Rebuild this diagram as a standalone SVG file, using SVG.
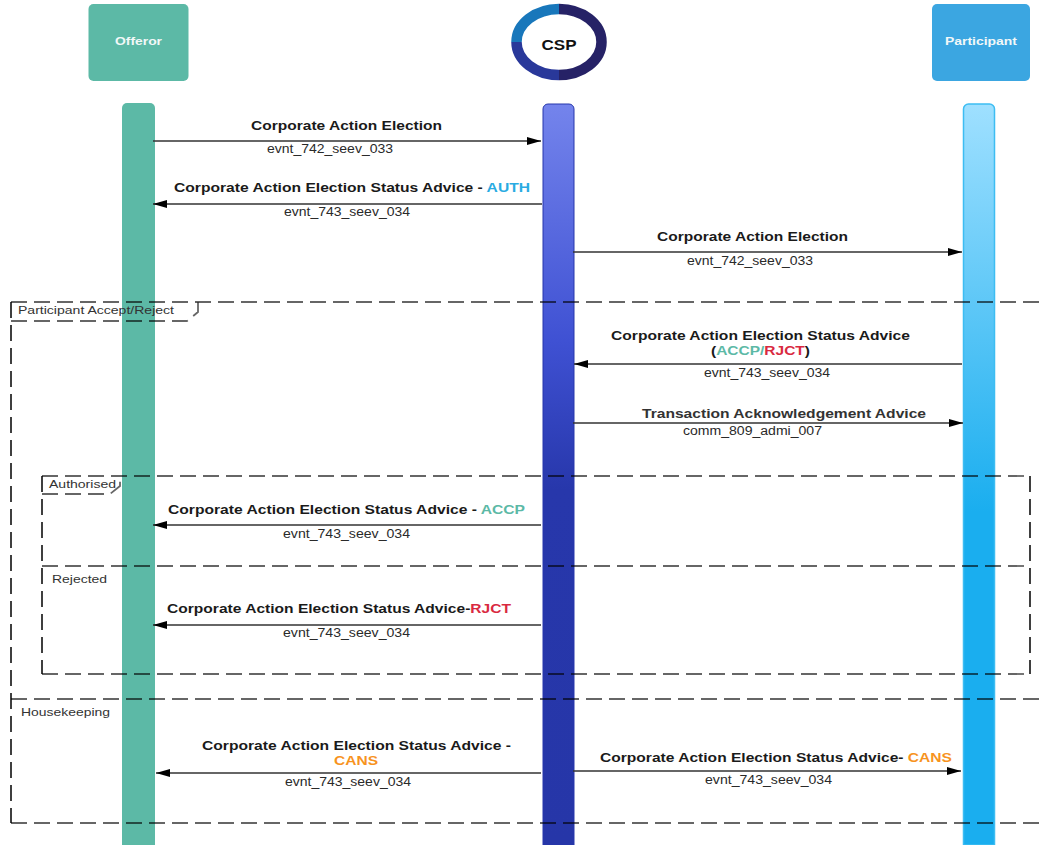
<svg xmlns="http://www.w3.org/2000/svg" width="1044" height="845" viewBox="0 0 1044 845">
<style>
text{font-family:"Liberation Sans",Arial,sans-serif;fill:#1a1a1a}
.b{font-weight:700;font-size:12.5px}
.s{font-size:12px;fill:#2a2a2a}
.f{font-size:11.5px;fill:#333}
.h{font-weight:700;font-size:11px;fill:#f2f8f8;text-anchor:middle}
.m{fill:none;stroke:#333;stroke-width:1.5}
.d{fill:none;stroke:#000;stroke-opacity:.6;stroke-width:1.8;stroke-dasharray:16 7}
.v{fill:none;stroke:#000;stroke-width:1.5;stroke-dasharray:16 7}
.auth{fill:#29abe2}.accp{fill:#5cb9a6}.rjct{fill:#d9293f}.cans{fill:#f7931e}
</style>
<defs>
<marker id="a" markerUnits="userSpaceOnUse" markerWidth="14" markerHeight="8" refX="14" refY="4" orient="auto"><path d="M0 0L14 4L0 8Z" fill="#000"/></marker>
<linearGradient id="gc" x1="0" y1="0" x2="0" y2="1"><stop offset="0" stop-color="#7484ec"/><stop offset=".32" stop-color="#3f51d3"/><stop offset=".52" stop-color="#2737ab"/><stop offset="1" stop-color="#2636a8"/></linearGradient>
<linearGradient id="gp" x1="0" y1="0" x2="0" y2="1"><stop offset="0" stop-color="#9fe0ff"/><stop offset=".55" stop-color="#1aaeef"/><stop offset="1" stop-color="#1aaeef"/></linearGradient>
</defs>
<rect width="1044" height="845" fill="#fff"/>
<g id="offeror"><rect x="88.500" y="4" width="100" height="77" rx="5" fill="#5cb9a6"/><text class="h" x="138.500" y="45" textLength="47" lengthAdjust="spacingAndGlyphs">Offeror</text></g>
<g id="csp">
<path d="M559 9A42.500 33 0 0 0 516.500 42" fill="none" stroke="#1877bb" stroke-width="10.500"/>
<path d="M516.500 42A42.500 33 0 0 0 559 75" fill="none" stroke="#29389a" stroke-width="10.500"/>
<path d="M559 75A42.500 33 0 0 0 559 9" fill="none" stroke="#262266" stroke-width="10.500"/>
<text x="559" y="50" font-size="14" font-weight="700" text-anchor="middle" textLength="35" lengthAdjust="spacingAndGlyphs" style="fill:#111">CSP</text></g>
<g id="participant"><rect x="932" y="4" width="98" height="77" rx="5" fill="#3ba6e1"/><text class="h" x="981" y="45" textLength="72" lengthAdjust="spacingAndGlyphs">Participant</text></g>
<g id="offeror-life"><path d="M122 845V108a5 5 0 0 1 5-5h23a5 5 0 0 1 5 5V845Z" fill="#5cb9a6"/></g>
<g id="csp-life"><path d="M543 845V109a5 5 0 0 1 5-5h21a5 5 0 0 1 5 5V845Z" fill="url(#gc)" stroke="#2737ab" stroke-width="1"/></g>
<g id="participant-life"><path d="M963.500 845V109a5 5 0 0 1 5-5h21a5 5 0 0 1 5 5V845Z" fill="url(#gp)" stroke="#3dbdf2" stroke-width="1.500"/></g>
<g id="frames">
<path class="d" d="M11 302H1044"/>
<path class="v" d="M11 302V823"/>
<path class="d" d="M11 321H187L198 312V302"/>
<path class="d" d="M11 699H1044"/>
<path class="d" d="M11 823H1044"/>
<path class="d" d="M42 476H1030"/>
<path class="v" d="M42 476V674"/>
<path class="v" d="M1030 476V674"/>
<path class="d" d="M42 674H1030"/>
<path class="d" d="M42 494H110L120 486V476"/>
<path class="d" d="M42 566H1030"/>
</g>
<g id="connectors">
<path class="m" d="M153 141H541" marker-end="url(#a)"/>
<path class="m" d="M542 204H153" marker-end="url(#a)"/>
<path class="m" d="M573 252H962" marker-end="url(#a)"/>
<path class="m" d="M962 364H574" marker-end="url(#a)"/>
<path class="m" d="M573 423H963" marker-end="url(#a)"/>
<path class="m" d="M541 525H153" marker-end="url(#a)"/>
<path class="m" d="M541 625H153" marker-end="url(#a)"/>
<path class="m" d="M541 773H156" marker-end="url(#a)"/>
<path class="m" d="M573 771H961" marker-end="url(#a)"/>
</g>
<g id="labels">
<text class="b" x="251" y="130" textLength="191" lengthAdjust="spacingAndGlyphs">Corporate Action Election</text>
<text class="s" x="267" y="153" textLength="126" lengthAdjust="spacingAndGlyphs">evnt_742_seev_033</text>
<text class="b" x="174" y="192" textLength="356" lengthAdjust="spacingAndGlyphs">Corporate Action Election Status Advice - <tspan class="auth">AUTH</tspan></text>
<text class="s" x="284" y="216" textLength="126" lengthAdjust="spacingAndGlyphs">evnt_743_seev_034</text>
<text class="b" x="657" y="241" textLength="191" lengthAdjust="spacingAndGlyphs">Corporate Action Election</text>
<text class="s" x="687" y="265" textLength="126" lengthAdjust="spacingAndGlyphs">evnt_742_seev_033</text>
<text class="f" x="18" y="314" textLength="156" lengthAdjust="spacingAndGlyphs">Participant Accept/Reject</text>
<text class="b" x="611" y="340" textLength="299" lengthAdjust="spacingAndGlyphs">Corporate Action Election Status Advice</text>
<text class="b" x="711" y="355" textLength="99" lengthAdjust="spacingAndGlyphs">(<tspan class="accp">ACCP/</tspan><tspan class="rjct">RJCT</tspan>)</text>
<text class="s" x="704" y="377" textLength="126" lengthAdjust="spacingAndGlyphs">evnt_743_seev_034</text>
<text class="b" x="642" y="418" textLength="284" lengthAdjust="spacingAndGlyphs" style="fill:#333">Transaction Acknowledgement Advice</text>
<text class="s" x="683" y="435" textLength="139" lengthAdjust="spacingAndGlyphs">comm_809_admi_007</text>
<text class="f" x="49" y="488" textLength="67" lengthAdjust="spacingAndGlyphs">Authorised</text>
<text class="b" x="168" y="514" textLength="357" lengthAdjust="spacingAndGlyphs">Corporate Action Election Status Advice - <tspan class="accp">ACCP</tspan></text>
<text class="s" x="283" y="538" textLength="127" lengthAdjust="spacingAndGlyphs">evnt_743_seev_034</text>
<text class="f" x="52" y="583" textLength="55" lengthAdjust="spacingAndGlyphs">Rejected</text>
<text class="b" x="167" y="613" textLength="344" lengthAdjust="spacingAndGlyphs">Corporate Action Election Status Advice-<tspan class="rjct">RJCT</tspan></text>
<text class="s" x="283" y="637" textLength="127" lengthAdjust="spacingAndGlyphs">evnt_743_seev_034</text>
<text class="f" x="21" y="716" textLength="89" lengthAdjust="spacingAndGlyphs">Housekeeping</text>
<text class="b" x="202" y="750" textLength="309" lengthAdjust="spacingAndGlyphs">Corporate Action Election Status Advice -</text>
<text class="b cans" x="334" y="765" textLength="44" lengthAdjust="spacingAndGlyphs" style="fill:#f7931e">CANS</text>
<text class="s" x="285" y="786" textLength="126" lengthAdjust="spacingAndGlyphs">evnt_743_seev_034</text>
<text class="b" x="600" y="762" textLength="352" lengthAdjust="spacingAndGlyphs">Corporate Action Election Status Advice- <tspan class="cans">CANS</tspan></text>
<text class="s" x="705" y="784" textLength="127" lengthAdjust="spacingAndGlyphs">evnt_743_seev_034</text>
</g>
</svg>
